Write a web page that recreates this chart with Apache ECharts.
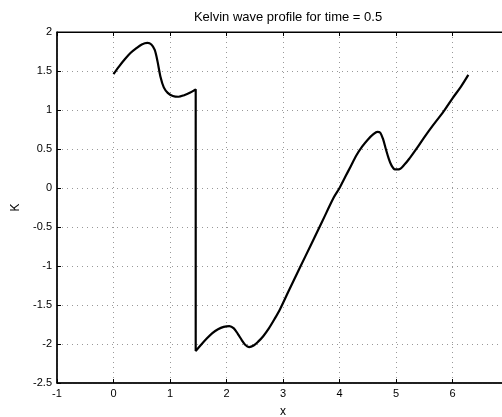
<!DOCTYPE html>
<html lang="en">

<head>
  <meta charset="UTF-8">
  <title>Kelvin wave profile</title>
  <style>
    body { margin: 0; background: #fff; }
  </style>
</head>

<body>
  <div class="main" style="width: 502px;height:417px;"></div>

  <script src="https://cdn.jsdelivr.net/npm/echarts@6/dist/echarts.min.js"></script>
  <script>
    // profile: x positions and K values
    const xs = [0.00, 0.10, 0.20, 0.30, 0.40, 0.50, 0.60, 0.67, 0.73, 0.78, 0.83, 0.89, 0.96, 1.05, 1.15, 1.25, 1.35, 1.455,
      1.455, 1.55, 1.65, 1.75, 1.85, 1.95, 2.05, 2.13, 2.20, 2.27, 2.33, 2.40, 2.48, 2.56, 2.65, 2.75, 2.85, 2.95,
      3.1, 3.3, 3.5, 3.7, 3.9, 4.0, 4.1, 4.2, 4.3, 4.4, 4.5, 4.6, 4.67, 4.72, 4.77, 4.82, 4.87, 4.92, 4.98,
      5.05, 5.15, 5.25, 5.37, 5.5, 5.65, 5.84, 6.0, 6.15, 6.28]
    const ks = [1.46, 1.56, 1.65, 1.73, 1.79, 1.84, 1.86, 1.84, 1.77, 1.62, 1.43, 1.29, 1.22, 1.18, 1.17, 1.19, 1.22, 1.265,
      -2.09, -2.01, -1.93, -1.86, -1.81, -1.78, -1.77, -1.80, -1.87, -1.95, -2.01, -2.04, -2.02, -1.97, -1.90, -1.80, -1.68, -1.55,
      -1.32, -1.02, -0.72, -0.42, -0.12, 0.00, 0.14, 0.28, 0.42, 0.53, 0.62, 0.69, 0.72, 0.71, 0.63, 0.50, 0.38, 0.29, 0.24,
      0.24, 0.30, 0.39, 0.51, 0.65, 0.80, 0.98, 1.15, 1.30, 1.45]
    const xTicks = [-1, 0, 1, 2, 3, 4, 5, 6, 7]
    const kTicks = [-2.5, -2, -1.5, -1, -0.5, 0, 0.5, 1, 1.5, 2]

    const font = 'Liberation Sans, Arial, sans-serif'
    const gridLine = { show: true, lineStyle: { color: '#999', width: 1, type: [1, 4] } }

    var myChart = echarts.init(document.querySelector('.main'))

    var option = {
      animation: false,
      title: {
        text: 'Kelvin wave profile for time = 0.5',
        left: 283,
        top: 6,
        textAlign: 'center',
        textStyle: { fontFamily: font, fontSize: 13, fontWeight: 'normal', color: '#000' }
      },
      // the right side of the axes box runs past the picture edge
      grid: {
        left: 57, width: 452, top: 32, height: 351,
        outerBoundsMode: 'none',
        containLabel: false,
        show: true, borderColor: '#000', borderWidth: 1
      },
      xAxis: [
        {
          type: 'value',
          min: xTicks[0],
          max: xTicks[xTicks.length - 1],
          interval: 1,
          name: 'x',
          nameLocation: 'middle',
          nameGap: 23,
          nameTextStyle: { fontFamily: font, fontSize: 12, color: '#000' },
          axisLine: { onZero: false, lineStyle: { color: '#000', width: 1.5 } },
          axisTick: { inside: true, length: 4, lineStyle: { color: '#000' } },
          axisLabel: { fontFamily: font, fontSize: 11, color: '#000', margin: 5 },
          splitLine: gridLine
        },
        {
          type: 'value',
          position: 'top',
          min: xTicks[0],
          max: xTicks[xTicks.length - 1],
          interval: 1,
          axisLine: { onZero: false, lineStyle: { color: '#000' } },
          axisTick: { inside: true, length: 4, lineStyle: { color: '#000' } },
          axisLabel: { show: false },
          splitLine: { show: false }
        }
      ],
      yAxis: {
        type: 'value',
        min: kTicks[0],
        max: kTicks[kTicks.length - 1],
        interval: 0.5,
        name: 'K',
        nameLocation: 'middle',
        nameGap: 29,
        nameTextStyle: { fontFamily: font, fontSize: 12, color: '#000' },
        axisLine: { show: true, onZero: false, lineStyle: { color: '#000', width: 1.5 } },
        axisTick: { show: true, inside: true, length: 4, lineStyle: { color: '#000' } },
        axisLabel: { fontFamily: font, fontSize: 11, color: '#000', margin: 5 },
        splitLine: gridLine
      },
      series: [{
        type: 'line',
        data: xs.map((x, i) => [x, ks[i]]),
        showSymbol: false,
        smooth: 0.3,
        lineStyle: { color: '#000', width: 2.2 }
      }]
    }

    myChart.setOption(option)
  </script>
</body>

</html>
